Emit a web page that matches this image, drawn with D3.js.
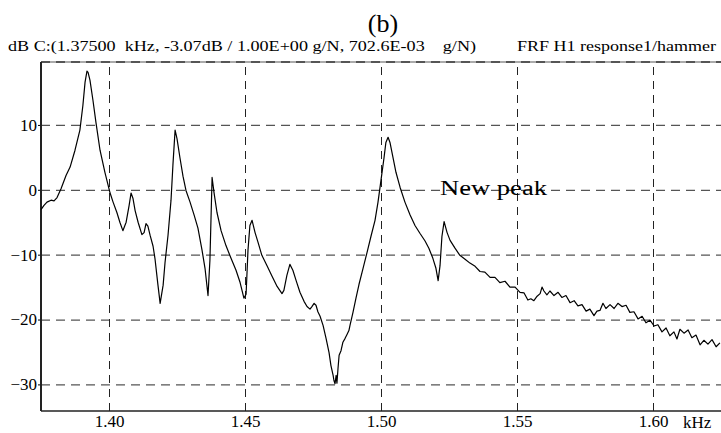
<!DOCTYPE html>
<html>
<head>
<meta charset="utf-8">
<script src="https://cdn.jsdelivr.net/npm/d3@7"></script>
<style>
  body { margin: 0; background: #fff; }
  svg { display: block; }
  text { font-family: "Liberation Serif", "Times New Roman", serif; fill: #000; }
</style>
</head>
<body>
<div id="chart"></div>
<script>
// frequency (kHz) and FRF magnitude (dB)
var freq = [
  1.3750, 1.3761, 1.3772, 1.3787, 1.3798, 1.3809, 1.3824, 1.3842, 1.3857, 1.3875,
  1.3893, 1.3904, 1.3912, 1.3919, 1.3923, 1.3930, 1.3941, 1.3952, 1.3967, 1.3985,
  1.4004, 1.4015, 1.4029, 1.4040, 1.4051, 1.4063, 1.4074, 1.4081, 1.4088, 1.4096,
  1.4107, 1.4121, 1.4129, 1.4136, 1.4143, 1.4151, 1.4162, 1.4169, 1.4180, 1.4188,
  1.4199, 1.4206, 1.4217, 1.4228, 1.4235, 1.4243, 1.4250, 1.4261, 1.4272, 1.4283,
  1.4298, 1.4313, 1.4327, 1.4342, 1.4353, 1.4364, 1.4371, 1.4379, 1.4386, 1.4397,
  1.4412, 1.4430, 1.4449, 1.4467, 1.4482, 1.4496, 1.4504, 1.4511, 1.4518, 1.4526,
  1.4537, 1.4548, 1.4562, 1.4581, 1.4599, 1.4618, 1.4636, 1.4643, 1.4654, 1.4665,
  1.4676, 1.4688, 1.4702, 1.4717, 1.4728, 1.4739, 1.4746, 1.4754, 1.4761, 1.4768,
  1.4776, 1.4787, 1.4798, 1.4809, 1.4816, 1.4824, 1.4827, 1.4831, 1.4835, 1.4838,
  1.4842, 1.4846, 1.4853, 1.4860, 1.4868, 1.4875, 1.4882, 1.4886, 1.4897, 1.4908,
  1.4919, 1.4934, 1.4949, 1.4963, 1.4978, 1.4989, 1.5000, 1.5011, 1.5018, 1.5026,
  1.5033, 1.5044, 1.5055, 1.5070, 1.5088, 1.5107, 1.5125, 1.5143, 1.5162, 1.5176,
  1.5191, 1.5202, 1.5210, 1.5217, 1.5224, 1.5232, 1.5243, 1.5254, 1.5272, 1.5290,
  1.5309, 1.5327, 1.5346, 1.5364, 1.5382, 1.5401, 1.5419, 1.5437, 1.5456, 1.5474,
  1.5493, 1.5511, 1.5526, 1.5540, 1.5551, 1.5562, 1.5574, 1.5585, 1.5592, 1.5599,
  1.5610, 1.5621, 1.5636, 1.5651, 1.5665, 1.5680, 1.5695, 1.5710, 1.5724, 1.5739,
  1.5754, 1.5768, 1.5783, 1.5794, 1.5805, 1.5816, 1.5827, 1.5842, 1.5857, 1.5871,
  1.5886, 1.5901, 1.5915, 1.5930, 1.5945, 1.5960, 1.5974, 1.5989, 1.6004, 1.6018,
  1.6033, 1.6048, 1.6062, 1.6077, 1.6088, 1.6099, 1.6114, 1.6129, 1.6143, 1.6158,
  1.6173, 1.6187, 1.6202, 1.6217, 1.6232, 1.6246
];
var dB = [
  -3.07, -2.4, -1.9, -1.6, -1.7, -1.2, 0.2, 2.2, 3.5, 6.1,
  9.2, 13.0, 16.6, 18.3, 18.1, 16.9, 13.8, 10.4, 6.1, 2.7,
  -0.5, -1.9, -3.5, -5.0, -6.3, -5.0, -2.4, -0.5, -1.3, -3.2,
  -5.0, -6.9, -6.6, -5.2, -5.6, -7.0, -8.7, -10.6, -14.7, -17.5,
  -14.7, -11.2, -7.0, -1.6, 3.8, 9.2, 7.9, 4.9, 2.1, -0.1,
  -1.9, -3.9, -5.9, -9.3, -12.1, -16.3, -10.9, 1.9, -0.4, -3.5,
  -6.3, -8.6, -10.6, -12.4, -14.3, -16.7, -16.1, -9.3, -5.5, -4.7,
  -6.6, -8.1, -10.1, -11.7, -13.3, -14.9, -16.0, -15.5, -13.2, -11.5,
  -12.4, -14.0, -15.8, -17.2, -18.0, -18.4, -18.0, -17.5, -17.8, -18.8,
  -19.5, -20.9, -22.9, -25.1, -27.1, -28.6, -29.4, -29.9, -28.6, -29.8,
  -27.5, -25.5, -24.8, -23.5, -22.9, -22.3, -21.7, -20.9, -18.9, -16.7,
  -14.6, -12.1, -9.6, -7.2, -4.7, -1.9, 1.5, 4.9, 7.3, 8.1,
  7.3, 5.0, 2.7, 0.4, -1.9, -3.9, -5.5, -6.7, -7.9, -9.0,
  -10.6, -12.1, -14.0, -11.7, -7.2, -4.9, -6.6, -7.8, -9.0, -10.1,
  -10.7, -11.3, -11.8, -12.6, -12.7, -13.5, -13.5, -14.3, -14.1, -15.0,
  -15.0, -15.8, -15.9, -17.0, -16.8, -17.1, -16.4, -16.0, -15.0, -15.6,
  -16.2, -15.6, -16.3, -15.8, -16.6, -16.3, -17.4, -17.1, -17.9, -17.7,
  -18.7, -18.4, -19.4, -18.7, -18.6, -17.5, -18.3, -17.7, -18.3, -17.5,
  -18.0, -17.8, -18.9, -18.8, -19.9, -19.5, -20.5, -20.1, -21.0, -20.8,
  -21.9, -21.3, -22.5, -21.9, -23.0, -21.5, -22.1, -21.6, -22.8, -22.4,
  -23.9, -23.2, -23.8, -23.1, -24.2, -23.6
];
var xTicks = [1.40, 1.45, 1.50, 1.55, 1.60];
var yTicks = [10, 0, -10, -20, -30];

function drawFrf(parentId) {
  var W = 721, H = 433;
  var pLeft = 41, pRight = 721, pTop = 62, pBottom = 411;

  var svg = d3.select(parentId).append("svg")
    .attr("width", W)
    .attr("height", H);

  var x = d3.scaleLinear().domain([1.375, 1.625]).range([pLeft, pRight]);
  var y = d3.scaleLinear().domain([-34.1, 19.7]).range([pBottom, pTop]);

  // horizontal grid (dashed)
  svg.append("g")
    .attr("transform", "translate(" + pLeft + ",0)")
    .call(d3.axisLeft(y).tickValues(yTicks).tickSize(-(pRight - pLeft)).tickFormat(""))
    .call(function (g) {
      g.select(".domain").remove();
      g.selectAll("line").attr("stroke", "#555").attr("stroke-width", 1.3)
        .attr("stroke-dasharray", "9,6");
    });

  // vertical grid (dashed)
  svg.append("g")
    .attr("transform", "translate(0," + pBottom + ")")
    .call(d3.axisBottom(x).tickValues(xTicks).tickSize(-(pBottom - pTop)).tickFormat(""))
    .call(function (g) {
      g.select(".domain").remove();
      g.selectAll("line").attr("stroke", "#222").attr("stroke-width", 1)
        .attr("stroke-dasharray", "8,6");
    });

  // top border: light solid + dark dashes
  svg.append("line")
    .attr("x1", pLeft).attr("x2", pRight).attr("y1", pTop).attr("y2", pTop)
    .attr("stroke", "#aaa").attr("stroke-width", 2);
  svg.append("line")
    .attr("x1", pLeft).attr("x2", pRight).attr("y1", pTop).attr("y2", pTop)
    .attr("stroke", "#555").attr("stroke-width", 2).attr("stroke-dasharray", "9,6");

  // y axis labels
  svg.append("g")
    .attr("transform", "translate(" + pLeft + ",0)")
    .call(d3.axisLeft(y).tickValues(yTicks).tickSize(3).tickPadding(1).tickFormat(d3.format("d")))
    .call(function (g) {
      g.select(".domain").remove();
      g.selectAll("line").attr("stroke", "#000");
      g.selectAll("text").attr("font-size", 17).attr("fill", "#000");
    });

  // x axis labels
  svg.append("g")
    .attr("transform", "translate(0," + pBottom + ")")
    .call(d3.axisBottom(x).tickValues(xTicks).tickSize(0).tickPadding(4).tickFormat(d3.format(".2f")))
    .call(function (g) {
      g.select(".domain").remove();
      g.selectAll("text").attr("font-size", 17).attr("fill", "#000");
    });

  // axis frame lines
  svg.append("line")
    .attr("x1", pLeft).attr("x2", pLeft).attr("y1", pTop).attr("y2", pBottom)
    .attr("stroke", "#222").attr("stroke-width", 2);
  svg.append("line")
    .attr("x1", pLeft).attr("x2", pRight).attr("y1", pBottom).attr("y2", pBottom)
    .attr("stroke", "#222").attr("stroke-width", 1.6);

  // the curve
  var line = d3.line()
    .x(function (d, i) { return x(freq[i]); })
    .y(function (d, i) { return y(dB[i]); });
  svg.append("path")
    .datum(freq)
    .attr("d", line)
    .attr("fill", "none")
    .attr("stroke", "#000")
    .attr("stroke-width", 1.2)
    .attr("stroke-linejoin", "round");

  // texts
  svg.append("text")
    .attr("x", 383).attr("y", 32)
    .attr("text-anchor", "middle")
    .attr("font-size", 26)
    .text("(b)");

  svg.append("text")
    .attr("x", 8).attr("y", 51)
    .attr("font-size", 14)
    .attr("textLength", 468).attr("lengthAdjust", "spacingAndGlyphs")
    .style("white-space", "pre")
    .text("dB C:(1.37500  kHz, -3.07dB / 1.00E+00 g/N, 702.6E-03    g/N)");

  svg.append("text")
    .attr("x", 517).attr("y", 51)
    .attr("font-size", 14)
    .attr("textLength", 199).attr("lengthAdjust", "spacingAndGlyphs")
    .text("FRF H1 response1/hammer");

  svg.append("text")
    .attr("x", 683).attr("y", 428)
    .attr("font-size", 17)
    .text("kHz");

  svg.append("text")
    .attr("x", 440).attr("y", 195)
    .attr("font-size", 20)
    .attr("textLength", 107).attr("lengthAdjust", "spacingAndGlyphs")
    .text("New peak");
}

drawFrf("#chart");
</script>
</body>
</html>
